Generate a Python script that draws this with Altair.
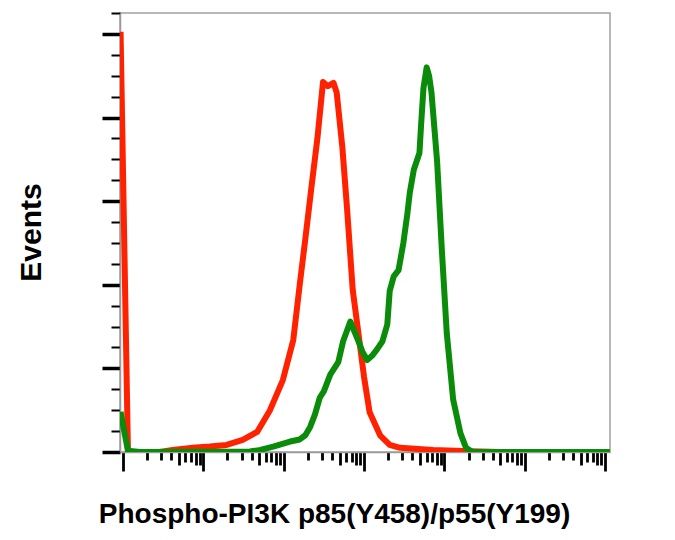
import math
import altair as alt
import pandas as pd

# x in decades (log10 of intensity), y in events
red_x = [-0.03, 0.062, 0.46, 0.62, 0.87, 1.08, 1.29, 1.49, 1.67, 1.83, 1.99, 2.12, 2.20, 2.27,
         2.35, 2.42, 2.49, 2.55, 2.62, 2.66, 2.73, 2.79, 2.86, 2.93, 3.00, 3.07, 3.20, 3.32,
         3.45, 3.86, 4.32, 4.69, 6.06]
red_y = [100.5, 0.0, 0.0, 0.5, 1.0, 1.3, 1.7, 2.9, 4.8, 10.0, 17.2, 26.8, 40.0, 51.0,
         64.0, 75.0, 88.5, 87.5, 88.3, 86.0, 73.0, 58.0, 38.7, 28.5, 18.0, 9.5, 4.0, 1.7,
         1.0, 0.5, 0.2, 0.0, 0.0]

green_x = [-0.03, 0.062, 0.21, 1.58, 1.71, 1.87, 2.08, 2.20, 2.27, 2.33, 2.39, 2.45, 2.50,
           2.58, 2.68, 2.74, 2.83, 2.93, 2.98, 3.04, 3.10, 3.16, 3.23, 3.29, 3.32, 3.37, 3.43,
           3.49, 3.54, 3.57, 3.62, 3.69, 3.71, 3.74, 3.78, 3.81, 3.84, 3.91, 3.97, 4.03, 4.11,
           4.20, 4.27, 4.35, 6.06]
green_y = [9.6, 0.3, 0.0, 0.1, 0.5, 1.3, 2.5, 3.0, 4.0, 6.0, 9.0, 13.0, 14.5,
           18.5, 21.5, 26.5, 31.2, 26.5, 24.0, 22.0, 23.0, 24.5, 26.5, 30.5, 38.5, 42.0, 43.5,
           50.0, 57.0, 62.0, 67.5, 71.5, 78.0, 87.0, 92.0, 90.0, 86.0, 69.5, 48.0, 28.5, 12.5,
           4.5, 1.0, 0.0, 0.0]

decades = [0, 1, 2, 3, 4, 5, 6]
y_ticks = list(range(0, 106, 5))
x_ticks = [d + math.log10(k) for d in decades for k in range(1, 10) if d + math.log10(k) <= 6.0001]

red = pd.DataFrame({"x": red_x, "y": red_y})
green = pd.DataFrame({"x": green_x, "y": green_y})

M = "round(pow(10, datum.value - floor(datum.value + 0.0001)))"

x_enc = alt.X(
    "x:Q",
    scale=alt.Scale(domain=[-0.037, 6.062], nice=False, zero=False),
    axis=alt.Axis(
        title="Phospho-PI3K p85(Y458)/p55(Y199)",
        values=x_ticks,
        labels=False,
        grid=False,
        domainColor="#9a9a9a",
        domainWidth=1.5,
        tickColor="black",
        tickWidth=2.8,
        tickSize={"condition": [
            {"test": f"{M} == 1", "value": 19},
            {"test": f"{M} == 5 || {M} >= 8", "value": 13},
            {"test": f"{M} == 6 || {M} == 7", "value": 10},
        ], "value": 8},
        titleFont="Liberation Sans",
        titleFontSize=28,
        titleFontWeight="bold",
        titleColor="black",
        titleX=214,
        titleY=70,
        titleAlign="center",
        titleBaseline="alphabetic",
    ),
)

y_enc = alt.Y(
    "y:Q",
    scale=alt.Scale(domain=[0, 105], nice=False, zero=True),
    axis=alt.Axis(
        title="Events",
        values=y_ticks,
        labels=False,
        grid=False,
        domainColor="#9a9a9a",
        domainWidth=1.5,
        tickColor="black",
        tickWidth={"condition": {"test": "datum.value % 20 == 0", "value": 3.5}, "value": 2},
        tickSize={"condition": {"test": "datum.value % 20 == 0", "value": 18}, "value": 9},
        titleFont="Liberation Sans",
        titleFontSize=30,
        titleFontWeight="bold",
        titleColor="black",
        titleAngle=270,
        titleX=-80,
        titleY=219,
        titleAlign="center",
        titleBaseline="alphabetic",
    ),
)

red_line = alt.Chart(red).mark_line(
    color="#ff2200", strokeWidth=6, clip=True, strokeJoin="round"
).encode(x=x_enc, y=y_enc)

green_line = alt.Chart(green).mark_line(
    color="#0a8c0a", strokeWidth=6, clip=True, strokeJoin="round"
).encode(x=x_enc, y=y_enc)

chart = alt.layer(red_line, green_line).properties(
    width=490,
    height=439,
    autosize=alt.AutoSizeParams(type="none"),
    padding={"left": 112, "top": 5, "right": 55, "bottom": 80},
    background="white",
).configure_view(stroke="#a0a0a0", strokeWidth=1.5)

chart.save("out.html", embed_options={"renderer": "svg", "actions": False})
